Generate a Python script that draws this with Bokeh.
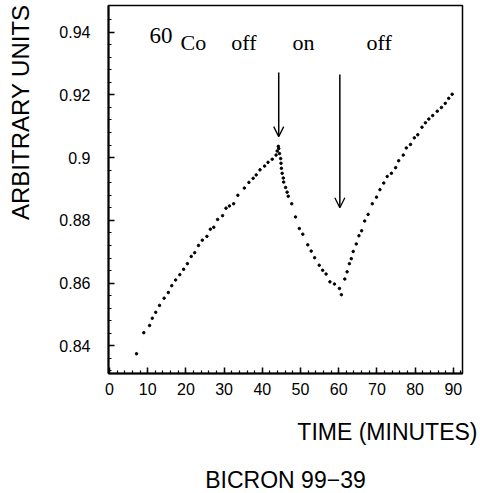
import math
import numpy as np
from bokeh.plotting import figure
from bokeh.layouts import row
from bokeh.models import (Range1d, FixedTicker, CustomJSTickFormatter, Title, Arrow,
                          OpenHead, ColumnDataSource)
from bokeh.core.properties import value
from bokeh.embed import file_html
from bokeh.resources import INLINE

# ---- data ----
time_min = [7.07, 8.98, 10.5, 11.2, 12.1, 13.1, 14.3, 15.4, 16.3, 17.3, 18.4, 19.4,
            20.4, 21.4, 22.3, 23.3, 24.3, 25.5, 26.4, 27.3, 28.3, 29.6, 30.5, 31.4,
            32.5, 33.6, 35.3, 36.5, 37.6, 38.4, 39.4, 40.6, 41.5, 42.6, 43.6, 43.9,
            44.2, 44.3, 44.5, 44.8, 44.9, 45.0, 45.2, 45.5, 45.6, 46.1, 46.5, 46.8,
            47.7, 48.7, 49.7, 50.6, 51.9, 52.8, 53.7, 54.9, 55.8, 56.7, 57.7, 58.9,
            60.2, 60.7, 61.6, 62.2, 62.8, 63.3, 63.8, 64.6, 65.3, 66.0, 66.8, 67.7,
            68.8, 69.9, 70.8, 71.8, 72.7, 73.8, 74.9, 75.7, 76.9, 77.7, 78.8, 79.8,
            80.7, 81.8, 82.7, 83.6, 84.6, 85.8, 86.9, 87.9, 88.8, 89.7]
signal = [0.8375, 0.8442, 0.8465, 0.8488, 0.8507, 0.8529, 0.8552, 0.8570, 0.8592, 0.8610,
          0.8627, 0.8644, 0.8662, 0.8685, 0.8697, 0.8720, 0.8737, 0.8749, 0.8772, 0.8778,
          0.8803, 0.8815, 0.8839, 0.8846, 0.8853, 0.8880, 0.8903, 0.8921, 0.8934, 0.8945,
          0.8961, 0.8973, 0.8985, 0.8995, 0.9008, 0.9021, 0.9036, 0.9029, 0.9013, 0.8997,
          0.8982, 0.8966, 0.8950, 0.8935, 0.8922, 0.8905, 0.8890, 0.8877, 0.8853, 0.8811,
          0.8774, 0.8756, 0.8722, 0.8702, 0.8681, 0.8657, 0.8641, 0.8629, 0.8604, 0.8597,
          0.8583, 0.8563, 0.8613, 0.8636, 0.8662, 0.8678, 0.8701, 0.8725, 0.8751, 0.8767,
          0.8798, 0.8819, 0.8853, 0.8874, 0.8898, 0.8919, 0.8940, 0.8950, 0.8968, 0.8990,
          0.9008, 0.9031, 0.9042, 0.9063, 0.9073, 0.9097, 0.9111, 0.9123, 0.9134, 0.9148,
          0.9160, 0.9173, 0.9189, 0.9202]

arrow_x = [44.3, 60.3]
arrow_top = [0.9271, 0.9265]
arrow_tip = [0.9067, 0.8840]

state_text = ["off", "on", "off"]
state_x = [31.9, 47.9, 67.3]

x_ticks = [0, 10, 20, 30, 40, 50, 60, 70, 80, 90]
y_ticks = [0.84, 0.86, 0.88, 0.90, 0.92, 0.94]

# ---- narrow strip carrying the vertical axis title ----
strip = figure(width=40, height=493, output_backend="svg", toolbar_location=None,
               x_range=Range1d(0, 40), y_range=Range1d(0, 493),
               min_border=0, outline_line_color=None)
strip.axis.visible = False
strip.grid.visible = False
strip.text(x=[20], y=[350], text=["ARBITRARY UNITS"], angle=math.pi / 2,
           text_font=value("Liberation Sans"), text_font_size="24px",
           text_align="center", text_baseline="middle", text_color="black")

# ---- main figure ----
p = figure(width=440, height=493, output_backend="svg", toolbar_location=None,
           x_range=Range1d(-0.26, 92.41), y_range=Range1d(0.83119, 0.94849),
           min_border_left=68, min_border_right=18, min_border_top=5,
           min_border_bottom=115)
p.xgrid.visible = False
p.ygrid.visible = False
p.outline_line_color = "black"
p.outline_line_width = 1.5
p.background_fill_color = "white"
p.border_fill_color = "white"

for ax in (p.xaxis[0], p.yaxis[0]):
    ax.axis_line_width = 2
    ax.axis_line_color = "black"
    ax.major_tick_in = 6
    ax.major_tick_out = 0
    ax.minor_tick_in = 3
    ax.minor_tick_out = 0
    ax.major_tick_line_width = 1.5
    ax.minor_tick_line_width = 1.2
    ax.major_tick_line_color = "black"
    ax.minor_tick_line_color = "black"
    ax.major_label_text_font = "Liberation Sans"
    ax.major_label_text_font_size = "16px"
    ax.major_label_text_color = "black"

p.xaxis[0].ticker = FixedTicker(ticks=x_ticks, minor_ticks=list(range(0, 93, 2)))
p.xaxis[0].major_label_standoff = 9
p.yaxis[0].ticker = FixedTicker(ticks=y_ticks,
                                minor_ticks=[round(v, 3) for v in np.arange(0.832, 0.948, 0.004)])
p.yaxis[0].formatter = CustomJSTickFormatter(code="return String(Math.round(tick*100)/100);")
p.yaxis[0].major_label_standoff = 18

# data points
p.scatter(time_min, signal, size=2.5, color="black")

# arrows
src = ColumnDataSource(dict(x=arrow_x, y0=arrow_top, y1=arrow_tip))
p.add_layout(Arrow(end=OpenHead(size=10, line_width=1.3, line_color="black"),
                   x_start="x", y_start="y0", x_end="x", y_end="y1",
                   line_width=1.5, line_color="black", source=src))

# source annotations
serif = value("Liberation Serif")
p.text(x=[10.5], y=[0.9390], text=["60"], text_font=serif, text_font_size="23px",
       text_align="left", text_baseline="alphabetic", text_color="black")
p.text(x=[18.6], y=[0.9368], text=["Co"], text_font=serif, text_font_size="22px",
       text_align="left", text_baseline="alphabetic", text_color="black")
p.text(x=state_x, y=[0.9368] * 3, text=state_text, text_font=serif, text_font_size="22px",
       text_align="left", text_baseline="alphabetic", text_color="black")

# bottom titles
p.add_layout(Title(text="TIME (MINUTES)", align="right", offset=-15,
                   text_font="Liberation Sans", text_font_size="23px",
                   text_font_style="normal", standoff=38, text_color="black"), "below")
p.add_layout(Title(text="BICRON 99−39", align="center", text_font="Liberation Sans",
                   text_font_size="23px", text_font_style="normal", standoff=2,
                   text_color="black"), "below")

layout = row(strip, p)
open("out.html", "w").write(file_html(layout, INLINE))
